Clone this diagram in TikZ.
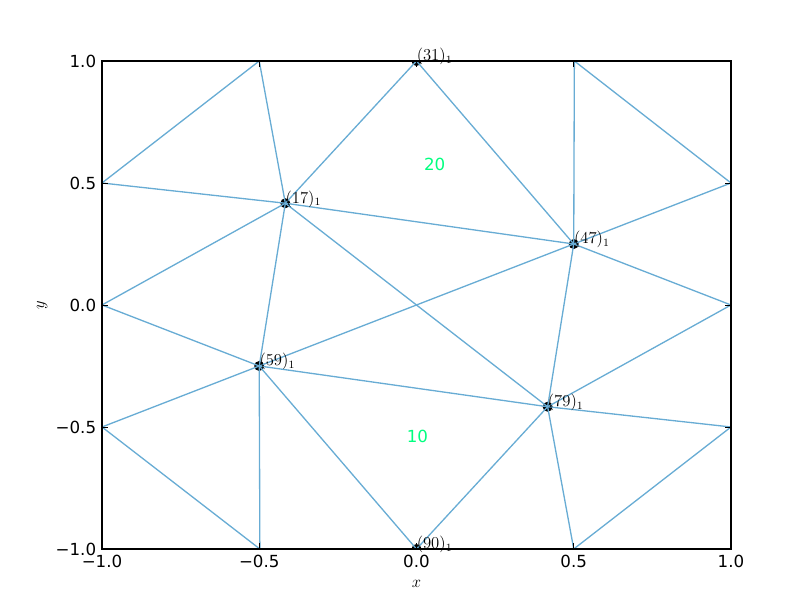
\documentclass[tikz,border=0pt]{standalone}
\usepackage{fontspec}
\newfontfamily\dv{DejaVu Sans}
\definecolor{edge}{RGB}{104,172,212}
\definecolor{reg}{RGB}{0,255,127}
\begin{document}
\begin{tikzpicture}[x=226.44pt,y=175.68pt,
  edgeline/.style={draw=edge,line width=0.95pt},
  frame/.style={draw=black,line width=1pt},
  tickmark/.style={draw=black,line width=0.6pt},
  ticklab/.style={font=\dv\fontsize{12}{14}\selectfont,inner sep=0pt},
  nlab/.style={anchor=base west,inner sep=0pt,font=\fontsize{12}{14}\selectfont},
  rlab/.style={text=reg,font=\dv\fontsize{12}{14}\selectfont,inner sep=0pt},
  dot/.style={fill=black}]
\useasboundingbox (-1.3243,-1.2582) rectangle (1.2576,1.25);
% boundary coordinates
\coordinate (b1) at (-0.5,1);
\coordinate (n31) at (0,1);
\coordinate (b3) at (0.502,1);
\coordinate (b5) at (1,0.5);
\coordinate (b6) at (1,0);
\coordinate (b7) at (1,-0.5);
\coordinate (b8) at (0.5,-1);
\coordinate (n90) at (0,-1);
\coordinate (b10) at (-0.498,-1);
\coordinate (b11) at (-1,-0.5);
\coordinate (b12) at (-1,0);
\coordinate (b13) at (-1,0.5);
\coordinate (n17) at (-0.417,0.417);
\coordinate (n47) at (0.5,0.25);
\coordinate (n59) at (-0.5,-0.25);
\coordinate (n79) at (0.417,-0.417);
% markers (clipped to axes)
\begin{scope}
\clip (-1,-1) rectangle (1,1);
\foreach \p in {n17,n31,n47,n59,n79,n90}
  \fill[dot] (\p) circle (3.6pt);
\end{scope}
% edges
\foreach \a/\b in {b13/b1, b1/n17, n31/n17, n31/n47, b3/n47, b3/b5, b5/n47,
  n47/b6, b6/n79, n47/n79, n79/b7, b7/b8, b8/n79, n79/n90, n79/n59,
  n79/n17, n17/n47, b13/n17, n17/b12, n17/n59, n59/b12, n59/b11,
  n59/b10, b11/b10, n59/n90, n59/n47}
  \draw[edgeline] (\a) -- (\b);
% ticks
\foreach \t in {-1,-0.5,0,0.5,1}{
  \draw[tickmark] (\t,-1) -- ++(0,4pt);
  \draw[tickmark] (\t,1) -- ++(0,-4pt);
  \draw[tickmark] (-1,\t) -- ++(4pt,0);
  \draw[tickmark] (1,\t) -- ++(-4pt,0);
}
% frame
\draw[frame] (-1,-1) rectangle (1,1);
% tick labels
\foreach \t/\l in {-1/{−1.0},-0.5/{−0.5},0/{0.0},0.5/{0.5},1/{1.0}}{
  \node[ticklab,anchor=north] (xt\t) at ([yshift=-4pt]\t,-1) {\l};
  \node[ticklab,anchor=east] (yt\t) at ([xshift=-4pt]-1,\t) {\l};
}
% axis labels
\node[font=\fontsize{12}{14}\selectfont] (xl) at (0,-1.145) {$x$};
\node[font=\fontsize{12}{14}\selectfont,rotate=90] (yl) at (-1.19,0) {$y$};
% node labels
\node[nlab] (l17) at (n17) {$(17)_1$};
\node[nlab] (l31) at (n31) {$(31)_1$};
\node[nlab] (l47) at (n47) {$(47)_1$};
\node[nlab] (l59) at (n59) {$(59)_1$};
\node[nlab] (l79) at (n79) {$(79)_1$};
\node[nlab] (l90) at (n90) {$(90)_1$};
% region labels
\node[rlab] (r20) at (0.058,0.578) {20};
\node[rlab] (r10) at (0.003,-0.537) {10};
\end{tikzpicture}
\end{document}
